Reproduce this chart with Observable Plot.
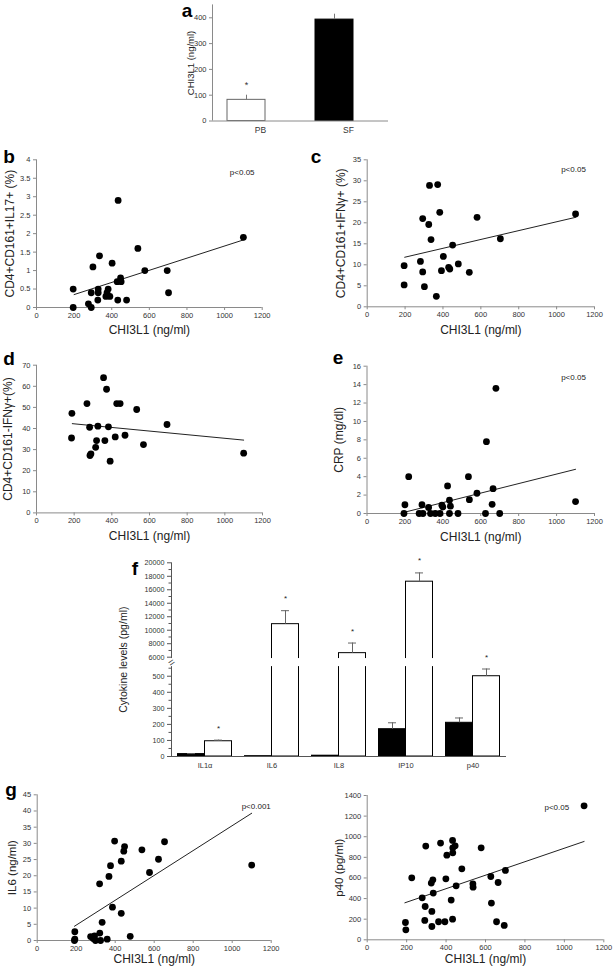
<!DOCTYPE html>
<html><head><meta charset="utf-8">
<script src="https://cdn.jsdelivr.net/npm/d3@7"></script>
<script src="https://cdn.jsdelivr.net/npm/@observablehq/plot@0.6"></script>
<style>
body{margin:0;background:#fff;}
#root{position:relative;width:614px;height:971px;overflow:hidden;background:#fff;font-family:"Liberation Sans",Arial,Helvetica,sans-serif;}
#root svg{display:block;}
.letter{position:absolute;font-weight:bold;font-size:19px;line-height:1;transform:translate(-50%,-50%);color:#000;}
</style></head><body><div id="root"></div>
<script>
// ---------- DATA ----------
const xTicks = [0, 200, 400, 600, 800, 1000, 1200];
const xTitle = "CHI3L1 (ng/ml)";

// panel a
const aGroups = ["PB", "SF"];
const aMean = [82, 393];
const aErr = [18, 21];
const aSig = ["*", ""];
const aTicks = [0, 100, 200, 300, 400];

// panel b
const bX = [195,195,276,291,291,300,326,328,328,335,369,375,381,390,402,429,432,434,447,450,479,539,576,695,702,1100];
const bY = [0.5,0,0.1,0.4,0,1.1,0.2,0.5,0.4,1.4,0.3,0.4,0.5,0.3,1.2,0.7,0.2,2.9,0.8,0.7,0.2,1.6,1.0,1.0,0.4,1.9];
const bFitX = [200, 1100], bFitY = [0.35, 1.83];
const bTicks = [0, 0.5, 1, 1.5, 2, 2.5, 3, 3.5, 4];

// panel c
const cX = [195,195,281,293,293,302,325,329,337,365,372,383,392,402,430,436,451,481,539,580,703,1100];
const cY = [9.8,5.2,10.8,21.0,8.3,4.8,19.6,28.9,16.0,2.5,29.1,22.5,8.6,12.0,9.4,9.0,14.7,10.2,8.2,21.3,16.2,22.1];
const cFitX = [198, 1100], cFitY = [11.8, 21.3];
const cTicks = [0, 5, 10, 15, 20, 25, 30, 35];

// panel d
const dX = [188,186,268,284,289,314,319,326,356,363,372,382,391,418,426,444,470,532,568,693,1100,282];
const dY = [47.2,35.5,51.8,27.2,28.0,31.1,34.3,41.1,64.1,34.3,58.6,40.8,24.5,36.0,51.8,51.8,36.8,49.0,32.4,41.9,28.3,40.6];
const dFitX = [190, 1100], dFitY = [42.3, 34.5];
const dTicks = [0, 10, 20, 30, 40, 50, 60, 70];

// panel e
const eX = [195,275,295,335,360,385,435,480,625,700,200,290,395,440,325,400,660,435,540,580,665,425,220,535,630,680,1100];
const eY = [0,0,0,0,0,0,0,0,0,0,0.95,0.95,0.9,0.8,0.65,0.7,1.0,1.45,1.5,2.2,2.7,3.0,4.0,4.0,7.8,13.6,1.3];
const eFitX = [200, 1100], eFitY = [0.15, 4.8];
const eTicks = [0, 2, 4, 6, 8, 10, 12, 14, 16];

// panel f
const cytokines = ["IL1α", "IL6", "IL8", "IP10", "p40"];
const fBlack = [15, 2, 5, 170, 210];
const fBlackErr = [3, 0, 0, 40, 30];
const fWhite = [95, 10900, 6600, 17200, 500];
const fWhiteErr = [7, 2000, 1500, 1300, 45];
const fTicks = [0, 100, 200, 300, 400, 500, 6000, 8000, 10000, 12000, 14000, 16000, 18000, 20000];
const fMinor = [50, 150, 250, 350, 450, 550, 7000, 9000, 11000, 13000, 15000, 17000, 19000];
const fBreak = [560, 5800];

// panel g (IL6)
const gX = [191,193,193,274,287,294,299,321,325,333,359,320,368,376,386,397,431,431,444,448,477,537,576,622,653,1100];
const gY = [0,0.4,2.7,1.2,0.6,1.4,0,2.3,0,5.6,0.4,17.5,19.8,23.1,10.3,30.7,8.4,24.5,27.6,29.0,1.3,28.0,21.0,25.1,30.5,23.3];
const gFitX = [191, 1100], gFitY = [4.4, 39.3];
const gTicks = [0, 5, 10, 15, 20, 25, 30, 35, 40, 45];

// panel g (p40)
const hX = [194,196,226,279,292,294,297,325,328,328,333,335,362,372,394,399,404,426,433,433,434,434,446,451,480,536,537,578,627,630,656,664,695,701,1100];
const hY = [168,97,601,407,188,323,909,550,275,129,582,453,175,938,175,592,821,385,964,200,892,844,912,524,689,543,511,892,614,356,175,556,139,673,1300];
const hFitX = [191, 1100], hFitY = [359, 954];
const hTicks = [0, 200, 400, 600, 800, 1000, 1200, 1400];

// ---------- RENDER ----------
const FONT = '"Liberation Sans", Arial, Helvetica, sans-serif';
const AX = "#8a8a8a";
const TXT = "#333";
const root = document.getElementById("root");
const fmt = d => String(d);

function place(node, left, top) {
  const div = document.createElement("div");
  div.style.cssText = `position:absolute;left:${left}px;top:${top}px;`;
  div.appendChild(node);
  root.appendChild(div);
}
function letter(t, x, y) {
  const s = document.createElement("div");
  s.className = "letter";
  s.style.left = x + "px"; s.style.top = y + "px";
  s.textContent = t;
  root.appendChild(s);
}
const baseStyle = {fontFamily: FONT, fontSize: "7.5px", color: TXT, background: "transparent", overflow: "visible"};

function scatter(o) {
  const [bl, bt, W, H] = o.box;
  const [fx0, fx1, fy0, fy1] = o.frame;
  const pts = o.xs.map((x, i) => ({x, y: o.ys[i]}));
  const fit = o.fitX.map((x, i) => ({x, y: o.fitY[i]}));
  const svg = Plot.plot({
    width: W, height: H,
    marginLeft: fx0 - bl, marginRight: bl + W - fx1,
    marginTop: fy1 - bt, marginBottom: bt + H - fy0,
    style: baseStyle,
    x: {domain: [0, 1200]},
    y: {domain: [0, o.yTicks[o.yTicks.length - 1]]},
    marks: [
      Plot.ruleY([0], {stroke: AX}),
      Plot.ruleX([0], {stroke: AX}),
      Plot.axisX({ticks: xTicks, tickSize: 3, tickPadding: 2, tickFormat: fmt, label: null, stroke: AX, fill: TXT, fontSize: 7.5}),
      Plot.axisY({ticks: o.yTicks, tickSize: 3, tickPadding: 3, tickFormat: fmt, label: null, stroke: AX, fill: TXT, fontSize: 7.5}),
      Plot.line(fit, {x: "x", y: "y", stroke: "#222", strokeWidth: 1}),
      Plot.dot(pts, {x: "x", y: "y", r: 3.4, fill: "#000"}),
      Plot.text([o.yLabel], {text: d => d, frameAnchor: "left", textAnchor: "middle", rotate: -90, dx: o.yDx, fontSize: o.yFont || 12, fill: "#222"}),
      Plot.text([xTitle], {text: d => d, frameAnchor: "bottom", textAnchor: "middle", dy: o.xDy, fontSize: 12, fill: "#222"}),
      o.p ? Plot.text([o.p], {text: d => d, frameAnchor: "top-right", dx: o.pDx, dy: o.pDy, textAnchor: "middle", fontSize: 8, fill: "#222"}) : null
    ]
  });
  place(svg, bl, bt);
}

// ---- panel a ----
{
  const data = aGroups.map((g, i) => ({g, m: aMean[i], e: aErr[i], s: aSig[i]}));
  const svg = Plot.plot({
    width: 260, height: 145, marginLeft: 62, marginRight: 22, marginTop: 4.4, marginBottom: 24.5,
    style: baseStyle,
    x: {domain: aGroups, padding: 0},
    y: {domain: [0, 450]},
    marks: [
      Plot.barY(data, {x: "g", y: "m", fill: (d, i) => i === 0 ? "#fff" : "#000", stroke: (d, i) => i === 0 ? "#666" : "#000", insetLeft: 15, insetRight: 35}),
      Plot.ruleX(data, {x: "g", y1: "m", y2: d => d.m + d.e, dx: -10, stroke: "#777"}),
      Plot.text(data.filter(d => d.s), {x: "g", y: d => d.m + d.e, text: "s", dx: -10, dy: -10, fontSize: 9}),
      Plot.ruleY([0], {stroke: AX}),
      Plot.ruleX([aGroups[0]], {dx: -44, stroke: AX}),
      Plot.axisX({tickSize: 0, tickPadding: 6, label: null, fill: TXT, fontSize: 8.5, dx: 4}),
      Plot.axisY({ticks: aTicks, tickSize: 3, tickPadding: 3, tickFormat: fmt, label: null, stroke: AX, fill: TXT, fontSize: 7.5}),
      Plot.text(["CHI3L1 (ng/ml)"], {text: d => d, frameAnchor: "left", textAnchor: "middle", rotate: -90, dx: -22, fontSize: 9.5, fill: "#222"})
    ]
  });
  place(svg, 150, 0);
}

scatter({box: [0, 150, 305, 200], frame: [36, 261.7, 307, 159.3], xs: bX, ys: bY, fitX: bFitX, fitY: bFitY,
  yTicks: bTicks, yLabel: "CD4+CD161+IL17+ (%)", yDx: -26, xDy: 26, p: "p<0.05", pDx: -20, pDy: 10});
scatter({box: [305, 150, 309, 200], frame: [366.7, 594, 306.3, 159.3], xs: cX, ys: cY, fitX: cFitX, fitY: cFitY,
  yTicks: cTicks, yLabel: "CD4+CD161+IFNγ+ (%)", yDx: -26, xDy: 26.7, p: "p<0.05", pDx: -21, pDy: 7});
scatter({box: [0, 355, 305, 200], frame: [36, 262, 512.4, 364.7], xs: dX, ys: dY, fitX: dFitX, fitY: dFitY,
  yTicks: dTicks, yLabel: "CD4+CD161-IFNγ+(%)", yDx: -28, xDy: 27, p: null});
scatter({box: [305, 355, 309, 200], frame: [366.5, 594, 513, 365.7], xs: eX, ys: eY, fitX: eFitX, fitY: eFitY,
  yTicks: eTicks, yLabel: "CRP (mg/dl)", yDx: -28, xDy: 27, p: "p<0.05", pDx: -21, pDy: 8.5});

// ---- panel f ----
{
  const data = cytokines.map((c, i) => ({c, b: fBlack[i], be: fBlackErr[i], w: fWhite[i], we: fWhiteErr[i]}));
  const top = 545, left = 100;
  const svg = Plot.plot({
    width: 420, height: 235, marginLeft: 71, marginRight: 14, marginTop: 17.3, marginBottom: 24,
    style: baseStyle,
    x: {domain: cytokines, padding: 0},
    y: {type: "linear", domain: [0, fBreak[0], fBreak[1], 20000], range: [756 - top, 666.1 - top, 658.05 - top, 562.3 - top]},
    marks: [
      Plot.barY(data, {x: "c", y: "b", fill: "#000", stroke: "#000", insetLeft: 6.5, insetRight: 33.5}),
      Plot.barY(data, {x: "c", y: "w", fill: "#fff", stroke: "#000", insetLeft: 33.5, insetRight: 6.5}),
      Plot.ruleX(data.filter(d => d.be > 0), {x: "c", y1: "b", y2: d => d.b + d.be, dx: -13.5, stroke: "#666"}),
      Plot.tickY(data.filter(d => d.be > 0), {x: "c", y: d => d.b + d.be, insetLeft: 16, insetRight: 43, stroke: "#666"}),
      Plot.ruleX(data, {x: "c", y1: "w", y2: d => d.w + d.we, dx: 13.5, stroke: "#666"}),
      Plot.tickY(data, {x: "c", y: d => d.w + d.we, insetLeft: 43, insetRight: 16, stroke: "#666"}),
      Plot.text(data, {x: "c", y: d => d.w + d.we, text: () => "*", dx: 13.5, dy: -12, fontSize: 8, fill: "#222"}),
      Plot.ruleY([0], {stroke: "#555"}),
      Plot.ruleX([cytokines[0]], {dx: -33.5, stroke: "#555"}),
      Plot.rect([fBreak], {y1: d => d[0], y2: d => d[1], fill: "#fff", insetLeft: -6}),
      Plot.text([fBreak], {y: d => (d[0] + d[1]) / 2, text: () => "=", frameAnchor: "left", textAnchor: "middle", rotate: -35, fontSize: 11, fill: "#444"}),
      Plot.axisX({tickSize: 0, tickPadding: 6, label: null, fill: TXT, fontSize: 7.5}),
      Plot.axisY({ticks: fTicks, tickSize: 4, tickPadding: 3, tickFormat: fmt, label: null, stroke: "#555", fill: TXT, fontSize: 7.2}),
      Plot.axisY({ticks: fMinor, tickSize: 2.5, tickFormat: () => "", label: null, stroke: "#555"}),
      Plot.text(["Cytokine levels (pg/ml)"], {text: d => d, frameAnchor: "left", textAnchor: "middle", rotate: -90, dx: -48, fontSize: 10.5, fill: "#222"})
    ]
  });
  place(svg, left, top);
}

scatter({box: [0, 780, 305, 191], frame: [36.7, 270.7, 940, 794.3], xs: gX, ys: gY, fitX: gFitX, fitY: gFitY,
  yTicks: gTicks, yLabel: "IL6 (ng/ml)", yDx: -25, xDy: 22.7, p: "p<0.001", pDx: -15, pDy: 9, yFont: 11.5});
scatter({box: [305, 780, 309, 191], frame: [366.7, 603.3, 939.3, 795], xs: hX, ys: hY, fitX: hFitX, fitY: hFitY,
  yTicks: hTicks, yLabel: "p40 (pg/ml)", yDx: -28, xDy: 23.4, p: "p<0.05", pDx: -47, pDy: 9.3, yFont: 11.5});

letter("a", 187, 10);
letter("b", 9, 156);
letter("c", 316, 156);
letter("d", 9, 358);
letter("e", 338, 357);
letter("f", 135, 568);
letter("g", 11, 789);
</script></body></html>
